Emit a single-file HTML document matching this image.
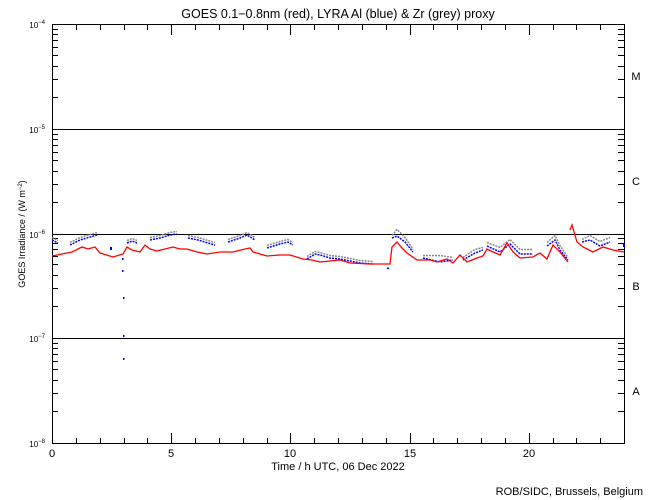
<!DOCTYPE html>
<html><head><meta charset="utf-8"><style>
html,body{margin:0;padding:0;background:#fff}
svg{display:block;font-family:"Liberation Sans",sans-serif}
</style></head><body>
<svg width="650" height="500" viewBox="0 0 650 500" xmlns="http://www.w3.org/2000/svg">
<rect width="650" height="500" fill="#fff"/>
<text x="338" y="18" font-size="12.5" text-anchor="middle">GOES 0.1−0.8nm (red), LYRA Al (blue) &amp; Zr (grey) proxy</text>
<g stroke="#000" stroke-width="1" shape-rendering="crispEdges" fill="none">
<rect x="52.5" y="24.5" width="572" height="419"/>
<line x1="52" y1="129.5" x2="624" y2="129.5"/>
<line x1="52" y1="234.5" x2="624" y2="234.5"/>
<line x1="52" y1="338.5" x2="624" y2="338.5"/>
<path d="M76.5,443v-5M100.5,443v-5M124.5,443v-5M147.5,443v-5M171.5,443v-10M195.5,443v-5M219.5,443v-5M243.5,443v-5M267.5,443v-5M290.5,443v-10M314.5,443v-5M338.5,443v-5M362.5,443v-5M386.5,443v-5M410.5,443v-10M433.5,443v-5M457.5,443v-5M481.5,443v-5M505.5,443v-5M529.5,443v-10M553.5,443v-5M576.5,443v-5M600.5,443v-5
M76.5,25v5M100.5,25v5M124.5,25v5M147.5,25v5M171.5,25v10M195.5,25v5M219.5,25v5M243.5,25v5M267.5,25v5M290.5,25v10M314.5,25v5M338.5,25v5M362.5,25v5M386.5,25v5M410.5,25v10M433.5,25v5M457.5,25v5M481.5,25v5M505.5,25v5M529.5,25v10M553.5,25v5M576.5,25v5M600.5,25v5"/>
<path d="M52,411.5h6M52,393.5h6M52,380.5h6M52,369.5h6M52,361.5h6M52,354.5h6M52,348.5h6M52,343.5h6
M52,306.5h6M52,288.5h6M52,275.5h6M52,264.5h6M52,256.5h6M52,249.5h6M52,243.5h6M52,238.5h6
M52,202.5h6M52,184.5h6M52,171.5h6M52,160.5h6M52,152.5h6M52,145.5h6M52,139.5h6M52,134.5h6
M52,97.5h6M52,79.5h6M52,66.5h6M52,55.5h6M52,47.5h6M52,40.5h6M52,34.5h6M52,29.5h6"/>
<path d="M618,411.5h6M618,393.5h6M618,380.5h6M618,369.5h6M618,361.5h6M618,354.5h6M618,348.5h6M618,343.5h6
M618,306.5h6M618,288.5h6M618,275.5h6M618,264.5h6M618,256.5h6M618,249.5h6M618,243.5h6M618,238.5h6
M618,202.5h6M618,184.5h6M618,171.5h6M618,160.5h6M618,152.5h6M618,145.5h6M618,139.5h6M618,134.5h6
M618,97.5h6M618,79.5h6M618,66.5h6M618,55.5h6M618,47.5h6M618,40.5h6M618,34.5h6M618,29.5h6"/>
</g>
<g font-size="11" text-anchor="middle">
<text x="52" y="457">0</text><text x="171" y="457">5</text><text x="290" y="457">10</text><text x="410" y="457">15</text><text x="529" y="457">20</text>
<text x="338" y="470">Time / h UTC, 06 Dec 2022</text>
</g>
<text x="643" y="495" font-size="11" text-anchor="end">ROB/SIDC, Brussels, Belgium</text>
<g font-size="8" text-anchor="end">
<text x="45" y="28">10<tspan font-size="6" dy="-4">−4</tspan></text>
<text x="45" y="133">10<tspan font-size="6" dy="-4">−5</tspan></text>
<text x="45" y="238">10<tspan font-size="6" dy="-4">−6</tspan></text>
<text x="45" y="342">10<tspan font-size="6" dy="-4">−7</tspan></text>
<text x="45" y="447">10<tspan font-size="6" dy="-4">−8</tspan></text>
</g>
<text transform="translate(25,234) rotate(-90)" font-size="9" text-anchor="middle">GOES Irradiance / (W m<tspan font-size="6" dy="-3">−2</tspan><tspan dy="3">)</tspan></text>
<g font-size="11" text-anchor="middle">
<text x="636" y="80">M</text><text x="636" y="185">C</text><text x="636" y="290">B</text><text x="636" y="395">A</text>
</g>
<g fill="none" stroke-width="1.5">
<g stroke="#888" stroke-dasharray="2 1" transform="translate(0,-2.5)">
<polyline points="52,240 58,243"/>
<polyline points="70,245 80,240 90,237 97,235"/>
<polyline points="127,243 132,241 137,243"/>
<polyline points="150,240 160,238 170,235 177,234"/>
<polyline points="188,238 198,240 208,243 215,245"/>
<polyline points="228,242 240,238 247,235 255,240"/>
<polyline points="267,248 280,244 288,242 293,245"/>
<polyline points="307,259 315,254 320,255 330,258 340,259 360,263 373,264"/>
<polyline points="392,238 397,232 405,240 413,252"/>
<polyline points="423,258 440,258 453,260"/>
<polyline points="463,260 475,252 483,250"/>
<polyline points="487,245 500,250 510,242 520,252 533,252"/>
<polyline points="547,245 555,238 560,248 568,260"/>
<polyline points="582,242 590,238 600,244 610,240"/>
</g>
<g stroke="#0000ff" stroke-dasharray="2 1">
<polyline points="52,240 58,243"/>
<polyline points="70,245 80,240 90,237 97,235"/>
<polyline points="127,243 132,241 137,243"/>
<polyline points="150,240 160,238 170,235 177,234"/>
<polyline points="188,238 198,240 208,243 215,245"/>
<polyline points="228,242 240,238 247,235 255,240"/>
<polyline points="267,248 280,244 288,242 293,245"/>
<polyline points="307,259 315,254 320,255 330,258 340,259 360,263 373,264"/>
<polyline points="387,268 390,269"/>
<polyline points="392,238 397,236 405,242 413,252"/>
<polyline points="423,258 440,262 453,260"/>
<polyline points="463,260 475,253 483,250"/>
<polyline points="487,246 500,252 510,244 520,254 533,254"/>
<polyline points="547,246 555,240 560,250 568,260"/>
<polyline points="582,242 590,240 600,246 610,242"/>
</g>
<g fill="#0000ff" stroke="none">
<rect x="122" y="258" width="1.5" height="2"/><rect x="122" y="270" width="1.5" height="2"/><rect x="123" y="297" width="1.5" height="2"/><rect x="123" y="335" width="1.5" height="2"/><rect x="123" y="358" width="1.5" height="2"/><rect x="110" y="247" width="2" height="3"/><rect x="623" y="244" width="2" height="3"/>
</g>
<polyline stroke="#ff0000" stroke-width="1.3" points="52,256 67,253 72,252 82,247 88,249 95,247 100,253 113,257 123,254 127,247 132,250 140,252 145,245 150,249 157,251 165,249 173,247 180,249 187,249 197,252 207,254 220,252 233,252 245,249 250,248 253,252 260,254 267,256 280,255 290,255 303,259 312,260 320,262 330,261 340,260 350,263 370,264 390,264 392,247 397,242 402,248 407,253 417,260 430,260 437,262 447,259 453,263 460,255 467,262 477,258 483,256 487,249 493,252 500,255 507,243 513,252 520,258 533,257 540,253 547,259 553,245 560,252 568,262"/>
<polyline stroke="#ff0000" stroke-width="1.3" points="570,230 572,225 577,242 583,247 593,252 603,247 613,250 624,252"/>
</g>
</svg>
</body></html>
